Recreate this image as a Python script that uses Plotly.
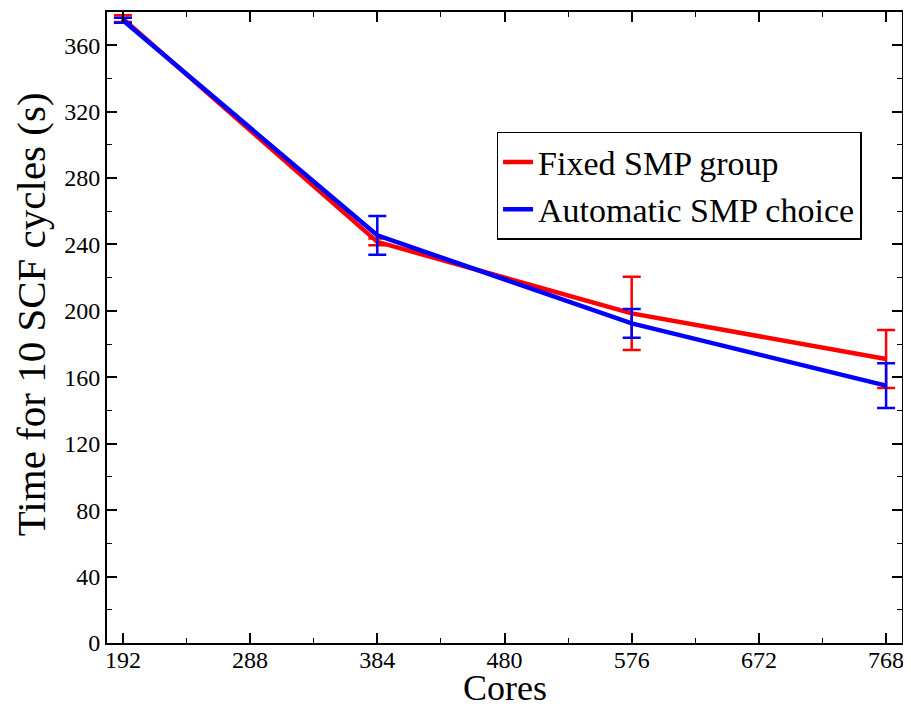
import plotly.graph_objects as go

cores = [192, 384, 576, 768]
fixed_time = [376, 241.6, 198.5, 171]
fixed_err = [2, 2, 22, 17.5]
auto_time = [375, 245.5, 192.5, 155]
auto_err = [1.5, 11.7, 8.7, 13.5]
series_names = ["Fixed SMP group", "Automatic SMP choice"]
x_ticks = [192, 288, 384, 480, 576, 672, 768]
y_ticks = [0, 40, 80, 120, 160, 200, 240, 280, 320, 360]
x_title = "Cores"
y_title = "Time for 10 SCF cycles (s)"

font_family = "Liberation Serif"
tick_font = dict(family=font_family, size=24, color="black")

fig = go.Figure()
fig.add_trace(go.Scatter(
    x=cores, y=fixed_time, mode="lines", name=series_names[0],
    line=dict(color="#ff0000", width=4.5),
    error_y=dict(type="data", array=fixed_err, visible=True, color="#ff0000", thickness=2.5, width=9),
))
fig.add_trace(go.Scatter(
    x=cores, y=auto_time, mode="lines", name=series_names[1],
    line=dict(color="#0000ff", width=4.5),
    error_y=dict(type="data", array=auto_err, visible=True, color="#0000ff", thickness=2.5, width=9),
))

fig.update_layout(
    width=903, height=701,
    margin=dict(l=99, r=9, t=4, b=66),
    paper_bgcolor="white", plot_bgcolor="white",
    font=dict(family=font_family, size=24, color="black"),
    xaxis=dict(
        range=[180, 780], tickmode="array", tickvals=x_ticks, ticktext=[str(v) for v in x_ticks],
        tickfont=tick_font, ticklabelstandoff=-6,
        showgrid=False, zeroline=False, showline=True, linecolor="black", linewidth=2,
        mirror="allticks", ticks="inside", ticklen=10, tickwidth=1.5, tickcolor="black",
        automargin=False,
        minor=dict(ticks="inside", ticklen=5, tickwidth=1, tickcolor="black", dtick=48, tick0=192),
    ),
    yaxis=dict(
        range=[0, 380], tickmode="array", tickvals=y_ticks, ticktext=[str(v) for v in y_ticks],
        tickfont=tick_font,
        showgrid=False, zeroline=False, showline=True, linecolor="black", linewidth=2,
        mirror="allticks", ticks="inside", ticklen=10, tickwidth=1.5, tickcolor="black",
        automargin=False,
        minor=dict(ticks="inside", ticklen=5, tickwidth=1, tickcolor="black", dtick=20, tick0=0),
    ),
    annotations=[
        dict(text=x_title, xref="paper", yref="paper", x=0.5, y=0, xanchor="center", yanchor="bottom",
             yshift=-66, borderpad=0, showarrow=False, font=dict(family=font_family, size=36, color="black")),
        dict(text=y_title, xref="paper", yref="paper", x=0, y=0.521, xanchor="center", yanchor="middle",
             xshift=-76, textangle=-90, showarrow=False, font=dict(family=font_family, size=41, color="black")),
    ],
    legend=dict(
        x=0.49, y=0.81, xanchor="left", yanchor="top",
        bgcolor="white", bordercolor="black", borderwidth=1.5,
        font=dict(family=font_family, size=34, color="black"),
        tracegroupgap=0, itemwidth=30,
    ),
    showlegend=True,
)

fig.write_html("out.html")
